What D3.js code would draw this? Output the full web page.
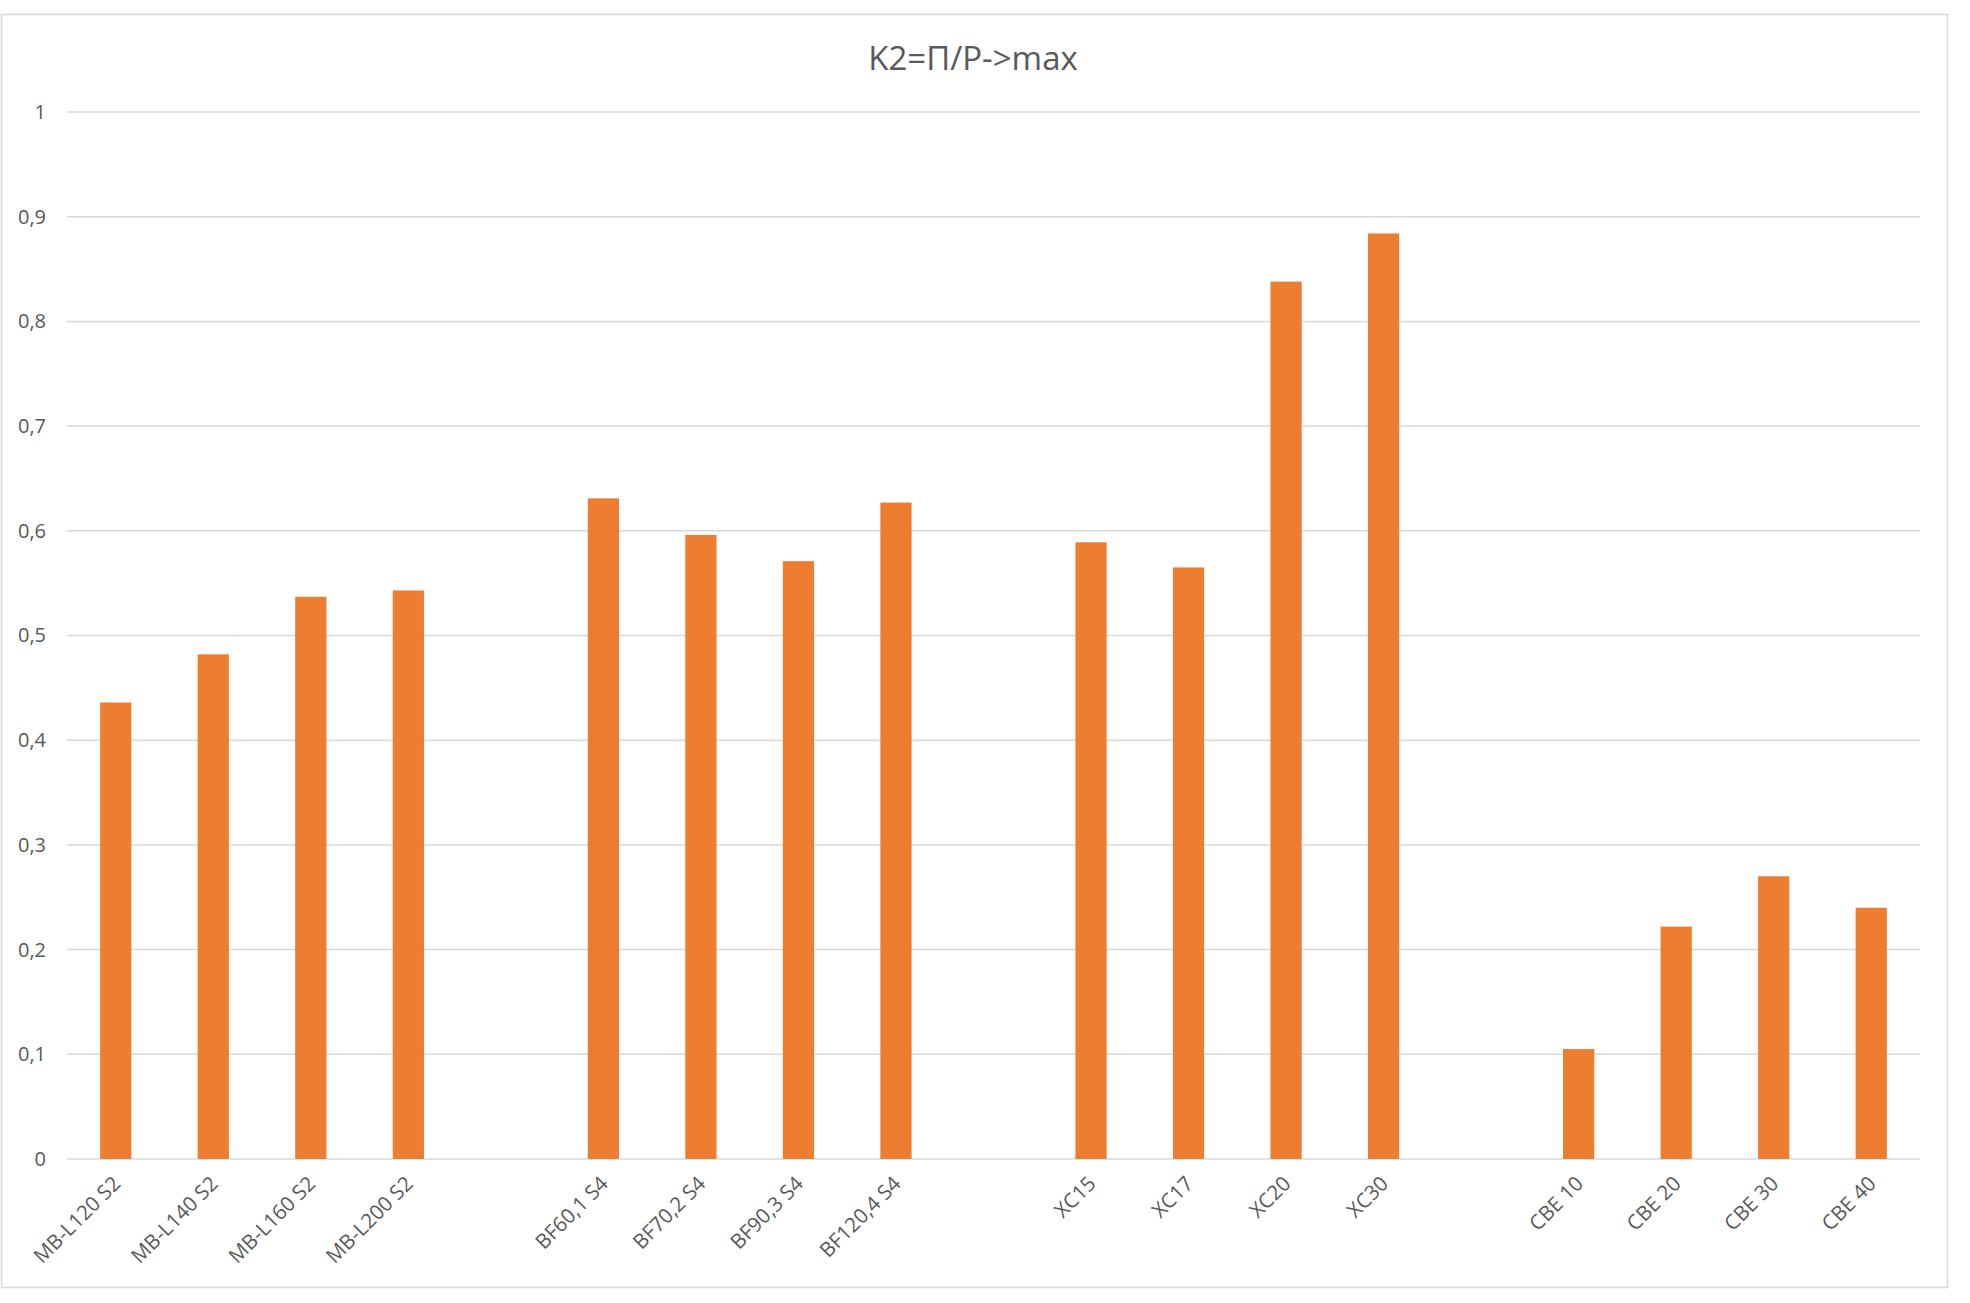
<!DOCTYPE html>
<html>
<head>
<meta charset="utf-8">
<script src="https://cdn.jsdelivr.net/npm/d3@7"></script>
<style>
  html, body { margin: 0; padding: 0; background: #fff; }
  svg { display: block; font-family: "Open Sans", "Noto Sans", sans-serif; }
</style>
</head>
<body>
<svg id="chart" width="1970" height="1303"></svg>
<script>
// Category slots; empty strings are spacer slots between model groups
const categories = [
  "MB-L120 S2", "MB-L140 S2", "MB-L160 S2", "MB-L200 S2", "",
  "BF60,1 S4", "BF70,2 S4", "BF90,3 S4", "BF120,4 S4", "",
  "XC15", "XC17", "XC20", "XC30", "",
  "CBE 10", "CBE 20", "CBE 30", "CBE 40"
];
// K2 values (null for spacer slots)
const values = [
  0.436, 0.482, 0.537, 0.543, null,
  0.631, 0.596, 0.571, 0.627, null,
  0.589, 0.565, 0.838, 0.884, null,
  0.105, 0.222, 0.270, 0.240
];
const yTicks = [0, 0.1, 0.2, 0.3, 0.4, 0.5, 0.6, 0.7, 0.8, 0.9, 1];
const yTickLabels = ["0", "0,1", "0,2", "0,3", "0,4", "0,5", "0,6", "0,7", "0,8", "0,9", "1"];
const title = "K2=П/P->max";

const svg = d3.select("#chart");
const plot = { left: 67, right: 1920, top: 112, bottom: 1159 };

// Chart area border
svg.append("rect")
  .attr("x", 1.5).attr("y", 14.5)
  .attr("width", 1946).attr("height", 1273)
  .attr("fill", "#fff")
  .attr("stroke", "#d9d9d9")
  .attr("stroke-width", 1.5);

const x = d3.scaleBand()
  .domain(d3.range(categories.length))
  .range([plot.left, plot.right])
  .paddingInner(0.68)
  .paddingOuter(0.34);

const y = d3.scaleLinear()
  .domain([0, 1])
  .range([plot.bottom, plot.top]);

// Horizontal gridlines
svg.append("g")
  .selectAll("line")
  .data(yTicks)
  .join("line")
  .attr("x1", plot.left).attr("x2", plot.right)
  .attr("y1", d => y(d)).attr("y2", d => y(d))
  .attr("stroke", "#d9d9d9")
  .attr("stroke-width", 1.5);

// Y axis labels
const yAxis = d3.axisLeft(y)
  .tickValues(yTicks)
  .tickSize(0)
  .tickPadding(0)
  .tickFormat((d, i) => yTickLabels[i]);
const gy = svg.append("g")
  .attr("transform", `translate(${plot.left - 21},0)`)
  .call(yAxis);
gy.select(".domain").remove();
gy.selectAll("text")
  .attr("fill", "#595959")
  .attr("font-size", 20)
  .attr("font-family", "\"Open Sans\", sans-serif");

// Bars
svg.append("g")
  .selectAll("rect")
  .data(values.map((v, i) => ({ i, v })).filter(d => d.v !== null))
  .join("rect")
  .attr("x", d => x(d.i))
  .attr("y", d => y(d.v))
  .attr("width", x.bandwidth())
  .attr("height", d => y(0) - y(d.v))
  .attr("fill", "#ED7D31");

// X axis labels, rotated
const xAxis = d3.axisBottom(x)
  .tickSize(0)
  .tickPadding(0)
  .tickFormat(i => categories[i]);
const gx = svg.append("g")
  .attr("transform", `translate(0,${plot.bottom})`)
  .call(xAxis);
gx.select(".domain").remove();
gx.selectAll("text")
  .attr("fill", "#595959")
  .attr("font-size", 20.5)
  .attr("font-family", "\"Open Sans\", sans-serif")
  .attr("text-anchor", "end")
  .attr("dy", "0")
  .attr("transform", "translate(6,26) rotate(-45)");

// Title
svg.append("text")
  .attr("x", 973)
  .attr("y", 70)
  .attr("text-anchor", "middle")
  .attr("fill", "#595959")
  .attr("font-size", 33)
  .text(title);
</script>
</body>
</html>
